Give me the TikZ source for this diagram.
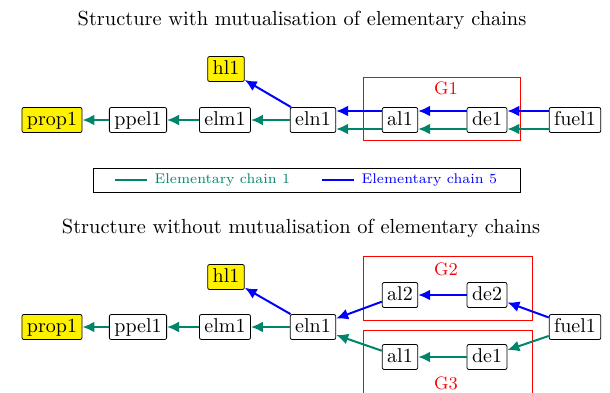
\documentclass[tikz,border=0pt]{standalone}
\usetikzlibrary{arrows.meta}
\definecolor{chainone}{RGB}{0,133,107}
\tikzset{
  elem/.style={draw, rounded corners=1pt, inner sep=2.5pt, text height=1.5ex, text depth=.25ex, fill=white},
  hot/.style={elem, fill=yellow},
  chainA/.style={-{Latex[length=6pt,width=5.5pt]}, line width=1pt, chainone},
  chainB/.style={chainA, blue},
  grp/.style={draw=red},
  grplabel/.style={red, font=\small},
}
\begin{document}
\begin{tikzpicture}[x=0.5pt,y=-0.5pt]
		\useasboundingbox (0,0) rectangle (610,392);
		\clip (0,0) rectangle (610,392);
		% with mutualisation
		\node[font=\fontsize{10.2}{12}\selectfont] (T1) at (302,20) {Structure with mutualisation of elementary chains};
		\draw[grp](363,77) rectangle (520,140);
		\node[grplabel] (G1) at (446,88) {G1};
		\node[hot] (prop1) at (52,120) {prop1};
		\node[elem] (ppel1) at (138,120) {ppel1};
		\node[elem] (elm1) at (225,120) {elm1};
		\node[elem] (eln1) at (313,120) {eln1};
		\node[hot] (hl1) at (226,69) {hl1};
		\node[elem] (al1) at (400,120) {al1};
		\node[elem] (de1) at (487,120) {de1};
		\node[elem] (fuel1) at (575,120) {fuel1};
		
		\draw[chainA](ppel1) -- (prop1);
		\draw[chainA](elm1) -- (ppel1);
		\draw[chainA](eln1) -- (elm1);
		\draw[chainB](eln1) -- (hl1);
		\draw[chainB]([yshift=4.5pt]al1.west) -- ([yshift=4.5pt]eln1.east);
		\draw[chainB]([yshift=4.5pt]de1.west) -- ([yshift=4.5pt]al1.east);
		\draw[chainB]([yshift=4.5pt]fuel1.west) -- ([yshift=4.5pt]de1.east);
		\draw[chainA]([yshift=-4.5pt]al1.west) -- ([yshift=-4.5pt]eln1.east);
		\draw[chainA]([yshift=-4.5pt]de1.west) -- ([yshift=-4.5pt]al1.east);
		\draw[chainA]([yshift=-4.5pt]fuel1.west) -- ([yshift=-4.5pt]de1.east);
		
		% legend
		\draw(93,168) rectangle (520,192);
		\draw[chainone,line width=1pt](115,180) -- (147,180) node[right,font=\scriptsize] (L1) {Elementary chain 1};
		\draw[blue,line width=1pt](322,180) -- (354,180) node[right,font=\scriptsize] (L5) {Elementary chain 5};
		
		% without mutualisation
		\node[font=\fontsize{10.2}{12}\selectfont] (T2) at (301,228) {Structure without mutualisation of elementary chains};
		\draw[grp](363,256) rectangle (532,320);
		\node[grplabel] (G2) at (446,269) {G2};
		\draw[grp](363,330) rectangle (532,420);
		\node[grplabel] (G3) at (446,383) {G3};
		\node[hot] (prop1') at (52,327) {prop1};
		\node[elem] (ppel1') at (138,327) {ppel1};
		\node[elem] (elm1') at (225,327) {elm1};
		\node[elem] (eln1') at (313,327) {eln1};
		\node[hot] (hl1') at (226,277) {hl1};
		\node[elem] (al2) at (400,295) {al2};
		\node[elem] (de2) at (487,295) {de2};
		\node[elem] (al1') at (400,357) {al1};
		\node[elem] (de1') at (487,357) {de1};
		\node[elem] (fuel1') at (575,327) {fuel1};
		
		\draw[chainA](ppel1') -- (prop1');
		\draw[chainA](elm1') -- (ppel1');
		\draw[chainA](eln1') -- (elm1');
		\draw[chainB](eln1') -- (hl1');
		\draw[chainB](al2) -- (eln1');
		\draw[chainB](de2) -- (al2);
		\draw[chainB](fuel1') -- (de2);
		\draw[chainA](al1') -- (eln1');
		\draw[chainA](de1') -- (al1');
		\draw[chainA](fuel1') -- (de1');
	\end{tikzpicture}
\end{document}
